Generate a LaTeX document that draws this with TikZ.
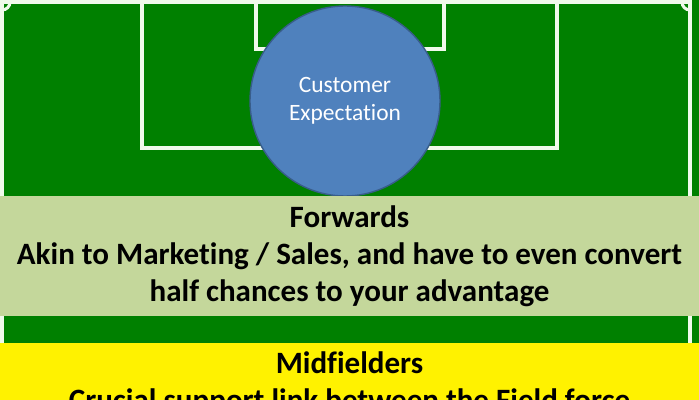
\documentclass[tikz,border=0pt]{standalone}
\usepackage{fontspec}
\setmainfont[Ligatures=NoCommon]{Carlito}
\definecolor{pitch}{RGB}{0,128,0}
\definecolor{bandgreen}{RGB}{196,215,155}
\definecolor{custblue}{RGB}{79,129,189}
\definecolor{custedge}{RGB}{56,93,138}
\definecolor{chalk}{RGB}{240,250,235}

\begin{document}
\begin{tikzpicture}[
  x=0.03cm, y=-0.03cm,
  pline/.style={draw=chalk, line width=2.6pt},
  custnode/.style={circle, draw=custedge, line width=1.2pt, fill=custblue,
    minimum size=5.7cm, inner sep=0pt, align=center, text=white,
    font=\fontsize{20}{24}\selectfont},
  band/.style={minimum width=20.97cm, inner sep=0pt, align=center,
    font=\bfseries\fontsize{26.5}{31.5}\selectfont}
]
  \clip (0,0) rectangle (699,400);
  % pitch
  \fill[pitch] (0,0) rectangle (699,343);
  \draw[pline] (2,343) -- (2,2) -- (690,2) -- (690,343);
  \draw[pline] (10,2) arc[start angle=0, end angle=90, radius=8];
  \draw[pline] (682,2) arc[start angle=180, end angle=90, radius=8];
  \draw[pline] (142,-5) -- (142,148) -- (557,148) -- (557,-5);
  \draw[pline] (256,-5) -- (256,49) -- (444,49) -- (444,-5);

  \node[custnode] (cust) at (345,101) {Customer\\Expectation};

  \node[band, fill=bandgreen, minimum height=3.6cm] (fwd) at (349.5,256)
    {Forwards\\Akin to Marketing / Sales, and have to even convert\\half chances to your advantage};
  \node[band, fill=yellow, minimum height=2.43cm] (mid) at (349.5,383.5)
    {Midfielders\\Crucial support link between the Field force};
\end{tikzpicture}
\end{document}
